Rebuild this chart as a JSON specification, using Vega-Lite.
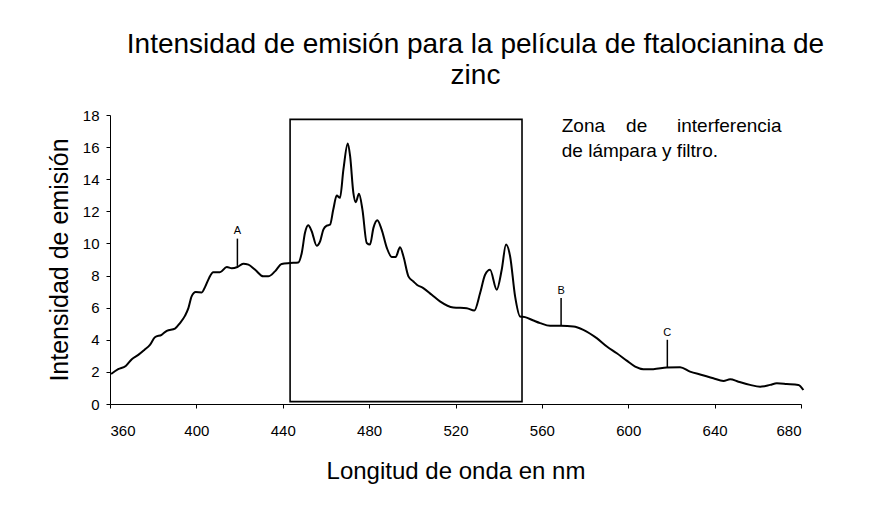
{
  "$schema": "https://vega.github.io/schema/vega-lite/v6.json",
  "autosize": "none",
  "width": 691,
  "height": 289,
  "padding": {"left": 110, "top": 115, "right": 81, "bottom": 110},
  "background": "white",
  "config": {
    "font": "Liberation Sans, Arial, Helvetica, sans-serif",
    "view": {"stroke": null},
    "axis": {"grid": false, "domainColor": "#000", "tickColor": "#000", "labelColor": "#000", "titleColor": "#000", "titleFontWeight": "normal", "domainWidth": 1, "tickWidth": 1, "tickSize": 4, "labelOverlap": false, "labelFontSize": 15}
  },
  "title": {
    "text": ["Intensidad de emisión para la película de ftalocianina de", "zinc"],
    "fontSize": 28,
    "fontWeight": "normal",
    "color": "#000",
    "anchor": "middle",
    "lineHeight": 31,
    "dx": 20,
    "offset": 18
  },
  "datasets": {
    "spectrum": [
      {"nm": 360.5, "v": 1.87}, {"nm": 363.8, "v": 2.17}, {"nm": 367.3, "v": 2.37}, {"nm": 370.1, "v": 2.79},
      {"nm": 373.1, "v": 3.06}, {"nm": 375.9, "v": 3.37}, {"nm": 378.5, "v": 3.68}, {"nm": 380.8, "v": 4.16},
      {"nm": 383.9, "v": 4.31}, {"nm": 386.3, "v": 4.56}, {"nm": 390.1, "v": 4.7}, {"nm": 392.4, "v": 5.04},
      {"nm": 394.7, "v": 5.49}, {"nm": 396.3, "v": 5.97}, {"nm": 397.8, "v": 6.7}, {"nm": 399.7, "v": 6.97},
      {"nm": 402.5, "v": 6.95}, {"nm": 404.0, "v": 7.28}, {"nm": 405.9, "v": 7.85}, {"nm": 407.8, "v": 8.2},
      {"nm": 410.9, "v": 8.2}, {"nm": 414.1, "v": 8.53}, {"nm": 416.4, "v": 8.45}, {"nm": 419.0, "v": 8.53},
      {"nm": 421.7, "v": 8.74}, {"nm": 424.1, "v": 8.68}, {"nm": 427.2, "v": 8.36}, {"nm": 431.0, "v": 7.95},
      {"nm": 433.3, "v": 7.95}, {"nm": 436.4, "v": 8.26}, {"nm": 439.5, "v": 8.72}, {"nm": 443.4, "v": 8.78},
      {"nm": 447.2, "v": 8.82}, {"nm": 448.8, "v": 9.41}, {"nm": 450.3, "v": 10.66}, {"nm": 451.8, "v": 11.13},
      {"nm": 453.4, "v": 10.76}, {"nm": 455.7, "v": 9.86}, {"nm": 457.3, "v": 10.13}, {"nm": 458.8, "v": 10.86},
      {"nm": 460.4, "v": 11.11}, {"nm": 461.9, "v": 11.17}, {"nm": 463.4, "v": 12.11}, {"nm": 465.0, "v": 12.98},
      {"nm": 466.5, "v": 12.84}, {"nm": 468.1, "v": 14.61}, {"nm": 470.1, "v": 16.23}, {"nm": 471.2, "v": 15.44},
      {"nm": 472.7, "v": 13.15}, {"nm": 473.8, "v": 12.57}, {"nm": 475.3, "v": 13.09}, {"nm": 476.9, "v": 12.11},
      {"nm": 478.9, "v": 10.03}, {"nm": 480.4, "v": 9.93}, {"nm": 482.0, "v": 10.97}, {"nm": 483.8, "v": 11.44},
      {"nm": 485.8, "v": 10.86}, {"nm": 488.2, "v": 9.72}, {"nm": 490.5, "v": 9.16}, {"nm": 492.3, "v": 9.16},
      {"nm": 494.3, "v": 9.76}, {"nm": 495.9, "v": 9.19}, {"nm": 498.2, "v": 7.95}, {"nm": 500.5, "v": 7.63},
      {"nm": 502.1, "v": 7.43}, {"nm": 505.1, "v": 7.22}, {"nm": 509.0, "v": 6.8}, {"nm": 512.8, "v": 6.39},
      {"nm": 519.0, "v": 6.01}, {"nm": 525.2, "v": 5.97}, {"nm": 528.7, "v": 5.82}, {"nm": 531.4, "v": 6.91},
      {"nm": 533.7, "v": 8.05}, {"nm": 536.0, "v": 8.36}, {"nm": 539.1, "v": 7.12}, {"nm": 541.4, "v": 8.36},
      {"nm": 543.4, "v": 9.93}, {"nm": 545.3, "v": 9.19}, {"nm": 547.6, "v": 6.7}, {"nm": 549.9, "v": 5.45},
      {"nm": 552.2, "v": 5.41}, {"nm": 556.1, "v": 5.2}, {"nm": 559.2, "v": 5.04}, {"nm": 563.8, "v": 4.87},
      {"nm": 568.9, "v": 4.87}, {"nm": 574.6, "v": 4.83}, {"nm": 579.2, "v": 4.62}, {"nm": 585.4, "v": 4.1},
      {"nm": 590.1, "v": 3.58}, {"nm": 594.7, "v": 3.16}, {"nm": 599.3, "v": 2.7}, {"nm": 603.2, "v": 2.33},
      {"nm": 607.0, "v": 2.17}, {"nm": 611.6, "v": 2.17}, {"nm": 617.8, "v": 2.27}, {"nm": 624.0, "v": 2.29},
      {"nm": 628.6, "v": 2.02}, {"nm": 634.1, "v": 1.81}, {"nm": 639.4, "v": 1.6}, {"nm": 644.1, "v": 1.44},
      {"nm": 647.2, "v": 1.54}, {"nm": 651.0, "v": 1.39}, {"nm": 656.4, "v": 1.19}, {"nm": 661.1, "v": 1.08},
      {"nm": 665.7, "v": 1.19}, {"nm": 668.8, "v": 1.29}, {"nm": 673.4, "v": 1.25}, {"nm": 678.8, "v": 1.19},
      {"nm": 681.1, "v": 0.87}
    ],
    "box": [{"nm": 443.4, "nm2": 550.8, "v": 0.15, "v2": 17.73}],
    "markers": [
      {"label": "A", "nm": 419.0, "v": 8.6, "v2": 10.3},
      {"label": "B", "nm": 568.9, "v": 4.87, "v2": 6.6},
      {"label": "C", "nm": 618.1, "v": 2.3, "v2": 4.0}
    ],
    "markerLabels": [
      {"label": "A", "nm": 419.0, "v": 10.6},
      {"label": "B", "nm": 568.9, "v": 6.85},
      {"label": "C", "nm": 618.1, "v": 4.25}
    ],
    "notesLeft": [
      {"text": "Zona", "nm": 569.2, "v": 16.92},
      {"text": "de lámpara y filtro.", "nm": 569.2, "v": 15.36}
    ],
    "notesCenter": [
      {"text": "de", "nm": 603.9, "v": 16.92}
    ],
    "notesRight": [
      {"text": "interferencia", "nm": 671.0, "v": 16.92}
    ]
  },
  "encoding": {
    "x": {
      "field": "nm", "type": "quantitative",
      "scale": {"domain": [360, 680], "nice": false, "zero": false},
      "axis": {"values": [360, 400, 440, 480, 520, 560, 600, 640, 680], "labelFontSize": 15, "labelPadding": 15, "title": "Longitud de onda en nm", "titleFontSize": 24, "titlePadding": 21, "labelOverlap": false}
    },
    "y": {
      "field": "v", "type": "quantitative",
      "scale": {"domain": [0, 18], "nice": false},
      "axis": {"values": [0, 2, 4, 6, 8, 10, 12, 14, 16, 18], "labelFontSize": 15, "labelPadding": 7, "title": "Intensidad de emisión", "titleFontSize": 25, "titlePadding": 10, "labelOverlap": false}
    }
  },
  "layer": [
    {
      "data": {"name": "spectrum"},
      "mark": {"type": "line", "color": "#000", "strokeWidth": 2, "interpolate": "monotone", "clip": false}
    },
    {
      "data": {"name": "box"},
      "mark": {"type": "rect", "fill": null, "fillOpacity": 0, "stroke": "#000", "strokeWidth": 1.6},
      "encoding": {
        "x2": {"field": "nm2"},
        "y2": {"field": "v2"}
      }
    },
    {
      "data": {"name": "markers"},
      "mark": {"type": "rule", "color": "#000", "strokeWidth": 1.5},
      "encoding": {
        "y2": {"field": "v2"}
      }
    },
    {
      "data": {"name": "markerLabels"},
      "mark": {"type": "text", "fontSize": 11, "align": "center", "baseline": "alphabetic", "color": "#000"},
      "encoding": {
        "text": {"field": "label"}
      }
    },
    {
      "data": {"name": "notesLeft"},
      "mark": {"type": "text", "fontSize": 19, "align": "left", "baseline": "alphabetic", "color": "#000"},
      "encoding": {
        "text": {"field": "text"}
      }
    },
    {
      "data": {"name": "notesCenter"},
      "mark": {"type": "text", "fontSize": 19, "align": "center", "baseline": "alphabetic", "color": "#000"},
      "encoding": {
        "text": {"field": "text"}
      }
    },
    {
      "data": {"name": "notesRight"},
      "mark": {"type": "text", "fontSize": 19, "align": "right", "baseline": "alphabetic", "color": "#000"},
      "encoding": {
        "text": {"field": "text"}
      }
    }
  ]
}
